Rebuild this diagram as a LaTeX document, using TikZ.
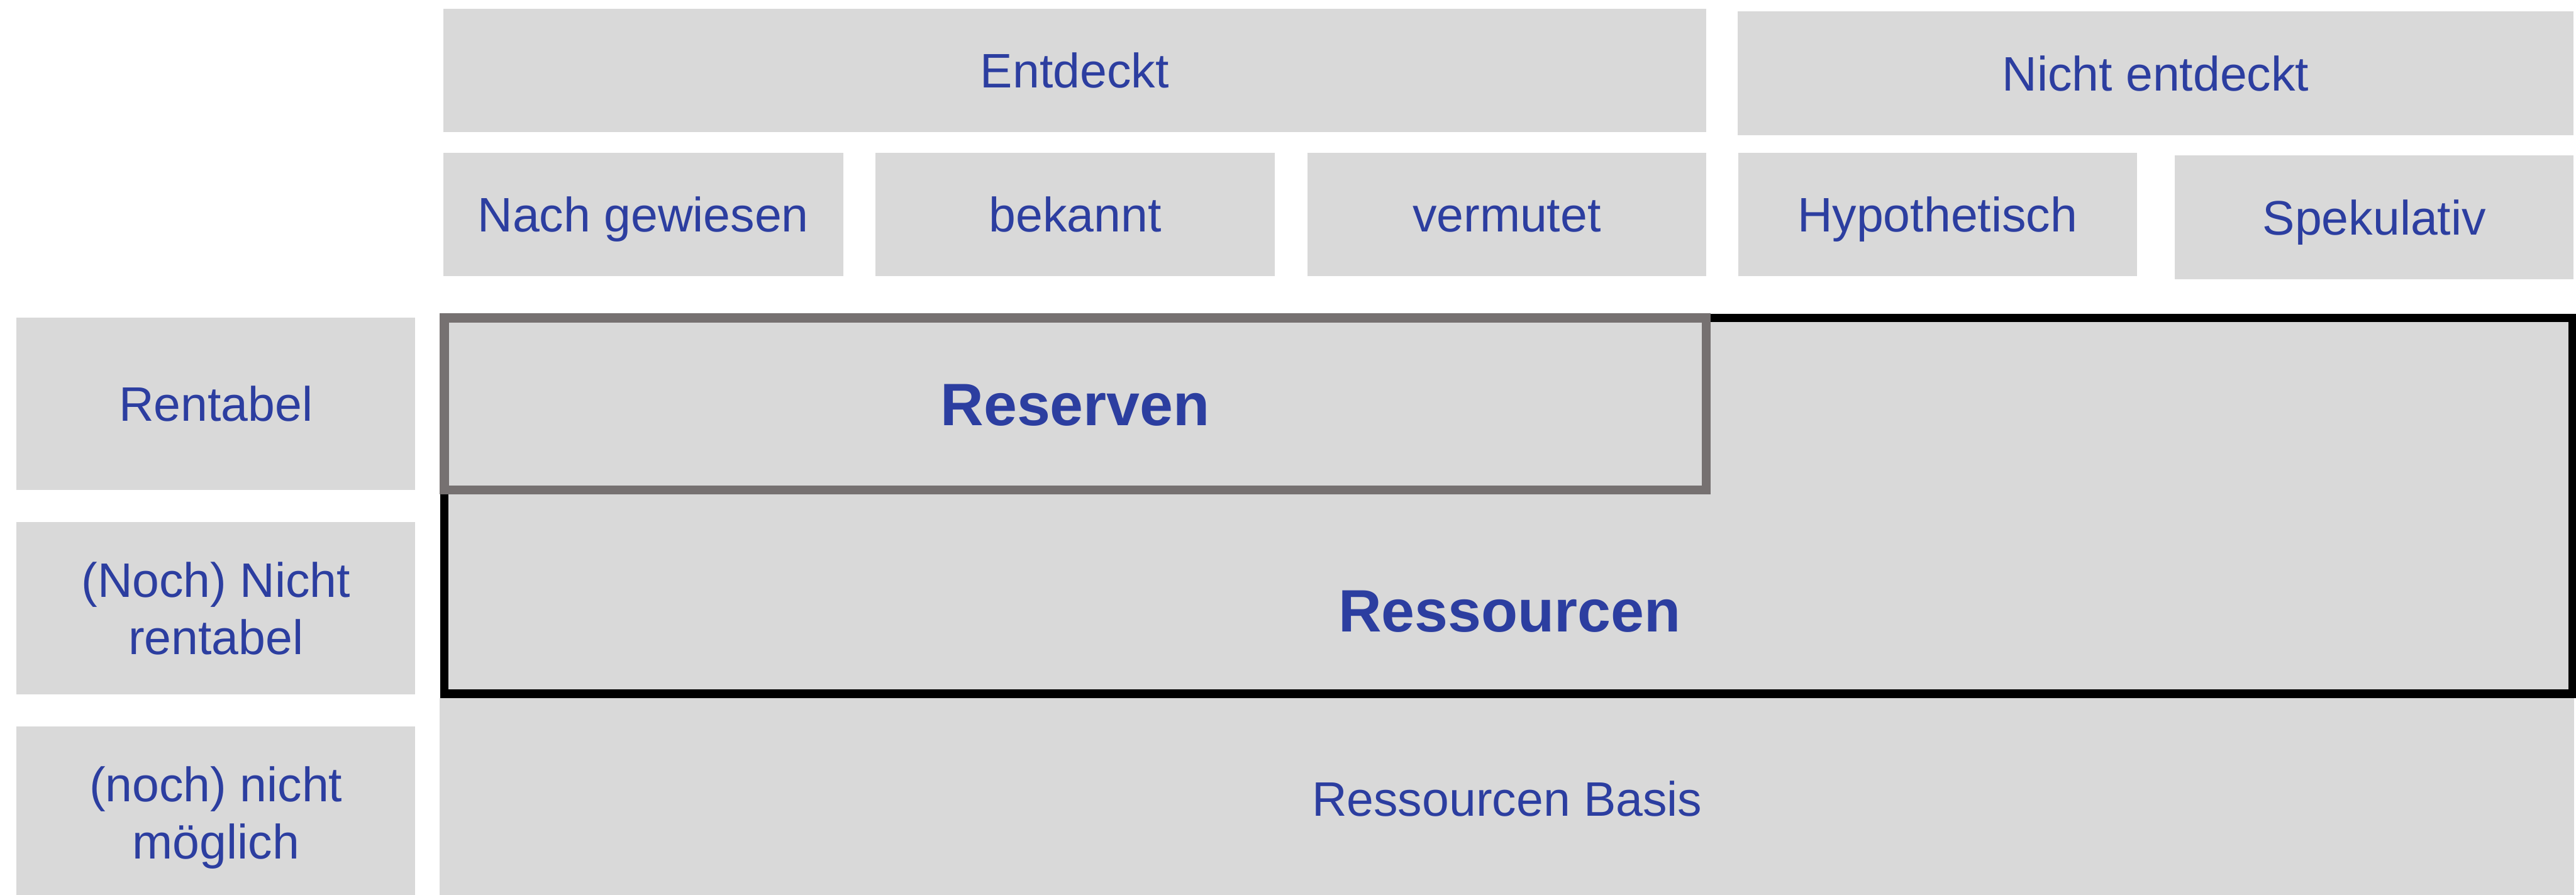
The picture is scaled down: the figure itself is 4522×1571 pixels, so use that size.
\documentclass[tikz,border=0pt]{standalone}
\usepackage{fontspec}
\setmainfont{Liberation Sans}
\definecolor{boxgray}{HTML}{D9D9D9}
\definecolor{txtblue}{RGB}{44,62,160}
\definecolor{resgray}{HTML}{767171}
\tikzset{
  box/.style={fill=boxgray, text=txtblue, inner sep=0pt, minimum height=43.4pt,
    font=\fontsize{17pt}{20pt}\selectfont, text height=12.2pt, text depth=0pt},
  rowlab/.style={fill=boxgray, text=txtblue, inner sep=0pt, minimum width=140pt,
    minimum height=60.6pt, align=center, text depth=0pt,
    font=\fontsize{17pt}{20pt}\selectfont},
  bigtxt/.style={text=txtblue, inner sep=0pt, font=\fontsize{21pt}{25pt}\selectfont\bfseries}
}
\begin{document}
\begin{tikzpicture}[x=0.2pt,y=-0.2pt]
\useasboundingbox (0,0) rectangle (4522,1571);
% column headers
\node[box, minimum width=443.4pt] (entdeckt) at (1886.5,123.5) {Entdeckt};
\node[box, minimum width=293.6pt] (nichtentdeckt) at (3784,128.5) {Nicht entdeckt};
\node[box, minimum width=140.4pt] (nach) at (1129,376.5) {Nach gewiesen};
\node[box, minimum width=140.2pt] (bekannt) at (1887.5,376.5) {bekannt};
\node[box, minimum width=140pt] (vermutet) at (2645,376.5) {vermutet};
\node[box, minimum width=140pt] (hypo) at (3401,376.5) {Hypothetisch};
\node[box, minimum width=140pt] (speku) at (4168,381.5) {Spekulativ};
% row labels
\node[rowlab, text height=12.2pt] (rentabel) at (379,708.5) {Rentabel};
\node[rowlab] (nichtrent) at (379,1067.5) {(Noch) Nicht\\rentabel};
\node[rowlab] (nichtmoegl) at (379,1426.5) {(noch) nicht\\möglich};
% base
\node[box, minimum width=749.4pt, minimum height=70.6pt] (basis) at (2645.5,1401.5) {Ressourcen Basis};
% resources frame
\node[draw=black, line width=3pt, fill=boxgray, inner sep=0pt,
  minimum width=747.2pt, minimum height=132pt] (ressourcen) at (2648,888) {};
\node[bigtxt, anchor=base] (ressourcenlabel) at (2650,1109) {Ressourcen};
% reserves frame
\node[draw=resgray, line width=3.2pt, fill=boxgray, inner sep=0pt,
  minimum width=443pt, minimum height=60.4pt, text=txtblue,
  font=\fontsize{21pt}{25pt}\selectfont\bfseries, text height=15pt, text depth=0pt]
  (reserven) at (1887.5,709) {Reserven};
\end{tikzpicture}
\end{document}
